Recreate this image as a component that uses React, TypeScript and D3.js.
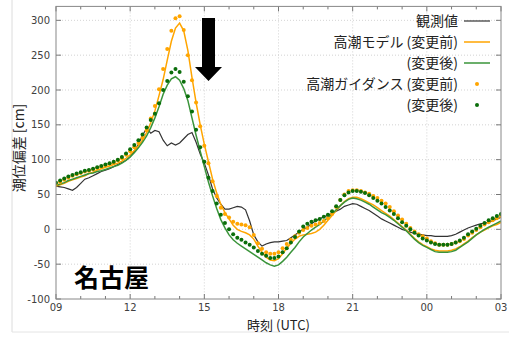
import * as d3 from "d3";
import React from "react";

// 10分間隔 09:00 (UTC) 〜 翌03:00
const observed = [
  62, 61, 60, 58, 56, 60,
  66, 72, 74, 77, 80, 83,
  85, 87, 90, 93, 96, 99,
  104, 112, 122, 135, 145, 138,
  142, 140, 128, 120, 124, 121,
  124, 130, 136, 139, 125, 108,
  95, 78, 58, 45, 36, 29,
  29, 31, 33, 32, 28, 12,
  -8, -18, -24, -21, -19, -18,
  -18, -17, -16, -12, -8, -4,
  0, 3, 8, 12, 15, 18,
  20, 23, 26, 29, 33, 35,
  37, 36, 33, 30, 27, 23,
  19, 15, 12, 9, 6, 3,
  0, -2, -4, -6, -7, -8,
  -9, -9, -10, -10, -10, -10,
  -9, -7, -4, -1, 2, 4,
  6, 8, 9, 10, 12, 15,
  17,
];

const modelBefore = [
  62, 64, 66, 69, 71, 73,
  75, 77, 80, 82, 85, 87,
  89, 91, 93, 95, 98, 102,
  107, 113, 120, 128, 139, 153,
  170, 192, 215, 243, 270, 289,
  296, 285, 257, 218, 182, 150,
  122, 97, 72, 52, 36, 24,
  15, 6, 0, -3, -5, -8,
  -14, -24, -33, -40, -44, -45,
  -42, -35, -27, -20, -14, -10,
  -8, -7, -6, -4, 0, 6,
  13, 20, 27, 34, 40, 44,
  46, 46, 44, 41, 38, 35,
  31, 27, 23, 19, 14, 9,
  4, -1, -7, -13, -18, -22,
  -25, -28, -30, -31, -31, -31,
  -30, -28, -25, -21, -17, -12,
  -8, -4, -1, 2, 5, 7,
  10,
];

const modelAfter = [
  63, 65, 67, 70, 72, 74,
  76, 78, 80, 81, 83, 84,
  86, 88, 90, 92, 95, 99,
  104, 110, 117, 125, 134, 146,
  160, 176, 194, 207, 216, 219,
  214, 202, 185, 160, 135, 112,
  90, 68, 48, 30, 14, 2,
  -8, -15, -20, -24, -28, -32,
  -36, -40, -44, -48, -51, -53,
  -51, -46, -40, -33, -26, -18,
  -11, -6, -1, 3, 7, 12,
  17, 22, 28, 34, 39, 43,
  45, 44, 42, 39, 36, 32,
  28, 24, 21, 17, 13, 8,
  3, -2, -8, -14, -19, -23,
  -26, -29, -32, -33, -33, -33,
  -32, -30, -26, -22, -18, -13,
  -8, -4, 0, 3, 6, 9,
  12,
];

const guidanceBefore = [
  65, 68, 71, 74, 77, 79,
  81, 83, 84, 86, 88, 90,
  92, 94, 96, 99, 102, 107,
  112, 118, 124, 131, 142, 159,
  177, 201, 230, 259, 285, 303,
  306, 286, 250, 214, 182, 148,
  120, 95, 69, 48, 31, 22,
  17, 11, 8, 7, 6, 3,
  -8, -20, -28, -33, -35, -35,
  -33, -27, -21, -15, -10, -5,
  -1, 2, 5, 7, 9, 12,
  16, 22, 32, 42, 50, 55,
  56, 56, 55, 53, 51, 48,
  45, 41, 37, 32, 26, 20,
  14, 8, 2, -3, -7, -10,
  -13, -17, -20, -22, -22, -22,
  -21, -19, -17, -14, -9, -5,
  -1, 3, 7, 10, 13, 16,
  19,
];

const guidanceAfter = [
  67, 70, 73, 76, 78, 80,
  82, 84, 85, 87, 89, 91,
  93, 95, 97, 100, 104, 109,
  115, 121, 128, 136, 146, 157,
  166, 181, 200, 213, 225, 230,
  226, 212, 191, 169, 143, 118,
  97, 74, 55, 37, 21, 9,
  0, -7, -12, -15, -19, -22,
  -26, -31, -35, -38, -41, -41,
  -39, -33, -27, -19, -11, -3,
  4, 8, 11, 13, 15, 18,
  21, 26, 33, 42, 49, 53,
  55, 55, 54, 52, 49, 45,
  41, 37, 32, 27, 22, 16,
  10, 5, 0, -5, -9, -13,
  -16, -19, -21, -22, -22, -22,
  -21, -19, -16, -12, -7, -3,
  1, 5, 9, 13, 16, 19,
  22,
];

const xTickLabels = ["09", "12", "15", "18", "21", "00", "03"];
const yTicks = [-100, -50, 0, 50, 100, 150, 200, 250, 300];
const legendLabels = ["観測値", "高潮モデル (変更前)", "(変更後)", "高潮ガイダンス (変更前)", "(変更後)"];

const W = 509;
const H = 340;
const margin = { top: 6.4, right: 8, bottom: 41, left: 56 };

const BLACK = "#333333";
const ORANGE = "#ffa500";
const GREEN = "#3a943a";
const DKGREEN = "#0b6e0b";
const tickFont = "'DejaVu Sans', sans-serif";
const jpFont = "'Noto Sans CJK JP', 'Noto Sans', sans-serif";

export default function App() {
  // 経過時間 (時間単位) を横軸に
  const hours = d3.range(observed.length).map((i) => i / 6);

  const x = d3.scaleLinear([0, 18], [margin.left, W - margin.right]);
  const y = d3.scaleLinear([-100, 320], [H - margin.bottom, margin.top]);

  const line = (vals: number[]) =>
    d3
      .line<number>()
      .x((_, i) => x(hours[i]))
      .y((d) => y(d))(vals) as string;

  const x0 = x(0);
  const x1 = x(18);
  const yb = y(-100);
  const yt = y(320);

  const major = d3.range(0, 19, 3);
  const minor = d3.range(0, 19, 1);

  const legendX = 458;
  const legendRows = [21, 42, 63, 84, 105];

  return (
    <svg
      width={W}
      height={H}
      style={{ position: "absolute", left: 0, top: 0, background: "#fff" }}
    >
      <defs>
        <clipPath id="plot">
          <rect x={x0} y={yt} width={x1 - x0} height={yb - yt} />
        </clipPath>
      </defs>

      {/* 画像の外枠 */}
      <line x1={12} x2={12} y1={0} y2={332} stroke="#dcdcdc" />
      <line x1={12} x2={W} y1={332} y2={332} stroke="#e4e4e4" />

      {/* グリッド */}
      <g stroke="#c8c8c8" strokeDasharray="1,2" strokeWidth={0.8}>
        {major.slice(1, -1).map((h) => (
          <line key={"vx" + h} x1={x(h)} x2={x(h)} y1={yt} y2={yb} />
        ))}
        {yTicks.slice(1).map((v) => (
          <line key={"hy" + v} x1={x0} x2={x1} y1={y(v)} y2={y(v)} />
        ))}
      </g>

      {/* 目盛り */}
      <g stroke="#777" strokeWidth={1}>
        {minor.map((h) => (
          <g key={"t" + h}>
            <line x1={x(h)} x2={x(h)} y1={yb} y2={yb - (h % 3 === 0 ? 5 : 3)} />
            <line x1={x(h)} x2={x(h)} y1={yt} y2={yt + (h % 3 === 0 ? 5 : 3)} />
          </g>
        ))}
        {yTicks.map((v) => (
          <g key={"yt" + v}>
            <line x1={x0} x2={x0 + 5} y1={y(v)} y2={y(v)} />
            <line x1={x1} x2={x1 - 5} y1={y(v)} y2={y(v)} />
          </g>
        ))}
      </g>

      {/* データ */}
      <g clipPath="url(#plot)">
        <path d={line(observed)} fill="none" stroke={BLACK} strokeWidth={1.2} />
        <path d={line(modelBefore)} fill="none" stroke={ORANGE} strokeWidth={1.5} />
        <path d={line(modelAfter)} fill="none" stroke={GREEN} strokeWidth={1.5} />
        {guidanceBefore.map((v, i) => (
          <circle key={"ob" + i} cx={x(hours[i])} cy={y(v)} r={2} fill={ORANGE} />
        ))}
        {guidanceAfter.map((v, i) => (
          <circle key={"ga" + i} cx={x(hours[i])} cy={y(v)} r={2} fill={DKGREEN} />
        ))}
      </g>

      {/* 枠 */}
      <rect x={x0} y={yt} width={x1 - x0} height={yb - yt} fill="none" stroke="#888" strokeWidth={1} />

      {/* 軸ラベル */}
      <g fontFamily={tickFont} fontSize={10} fill="#404040">
        {yTicks.map((v) => (
          <text key={"yl" + v} x={x0 - 6} y={y(v)} dy="0.35em" textAnchor="end">
            {v}
          </text>
        ))}
        {major.map((h, i) => (
          <text key={"xl" + h} x={x(h)} y={yb + 12} textAnchor="middle">
            {xTickLabels[i]}
          </text>
        ))}
      </g>
      <text
        x={(x0 + x1) / 2}
        y={330}
        textAnchor="middle"
        fontFamily={jpFont}
        fontSize={13}
        fill="#222"
      >
        時刻 (UTC)
      </text>
      <text
        transform="translate(24,148) rotate(-90)"
        textAnchor="middle"
        fontFamily={jpFont}
        fontSize={14}
        fill="#222"
      >
        潮位偏差 [cm]
      </text>

      {/* 凡例 */}
      <g fontFamily={jpFont} fontSize={14} fill="#222">
        {legendLabels.map((t, i) => (
          <text key={"lg" + i} x={legendX} y={legendRows[i]} dy="0.35em" textAnchor="end">
            {t}
          </text>
        ))}
      </g>
      <line x1={464} x2={490} y1={legendRows[0]} y2={legendRows[0]} stroke={BLACK} strokeWidth={1.2} />
      <line x1={464} x2={490} y1={legendRows[1]} y2={legendRows[1]} stroke={ORANGE} strokeWidth={1.5} />
      <line x1={464} x2={490} y1={legendRows[2]} y2={legendRows[2]} stroke={GREEN} strokeWidth={1.5} />
      <circle cx={477} cy={legendRows[3]} r={2} fill={ORANGE} />
      <circle cx={477} cy={legendRows[4]} r={2} fill={DKGREEN} />

      {/* 矢印 */}
      <path
        d="M202,18 L215,18 L215,67 L222,67 L208.5,81 L195,67 L202,67 Z"
        fill="#000"
      />

      {/* 地点名 */}
      <text x={74} y={287} fontFamily={jpFont} fontSize={25} fontWeight="bold" fill="#000">
        名古屋
      </text>
    </svg>
  );
}
